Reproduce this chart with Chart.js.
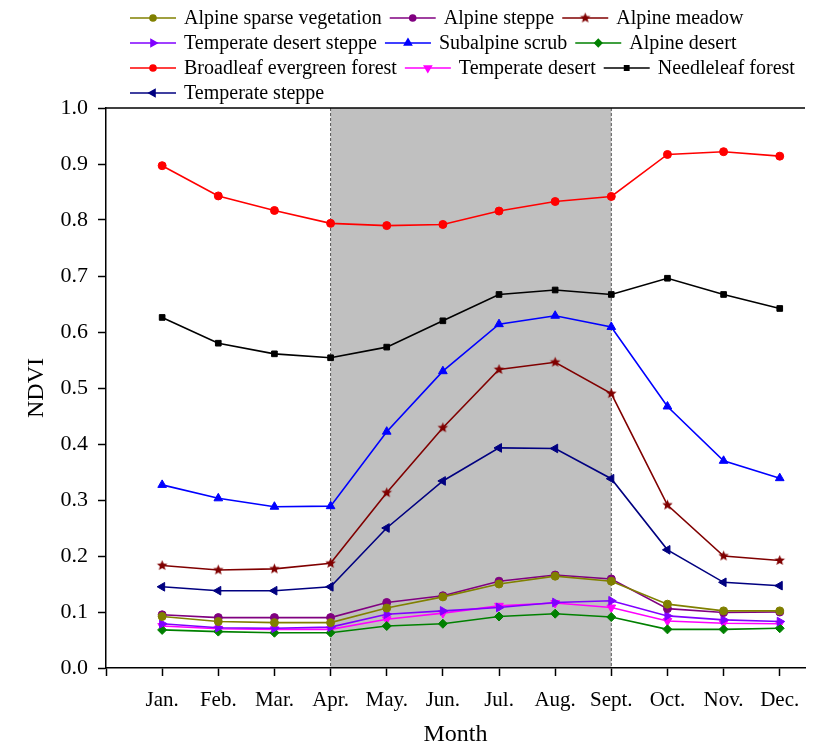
<!DOCTYPE html>
<html>
<head>
<meta charset="utf-8">
<script src="https://cdn.jsdelivr.net/npm/chart.js@4.4.1/dist/chart.umd.min.js"></script>
<style>
  html, body { margin: 0; padding: 0; background: #fff; }
  #wrap { width: 831px; height: 748px; }
</style>
</head>
<body>
<div id="wrap"><canvas id="ndvi"></canvas></div>
<script>
const months = ["Jan.", "Feb.", "Mar.", "Apr.", "May.", "Jun.", "Jul.", "Aug.", "Sept.", "Oct.", "Nov.", "Dec."];
const monthIndex = [1, 2, 3, 4, 5, 6, 7, 8, 9, 10, 11, 12];
const growingSeason = [4, 9]; // Apr. .. Sept.
const yTicks = [0, 0.1, 0.2, 0.3, 0.4, 0.5, 0.6, 0.7, 0.8, 0.9, 1.0];

const alpineSparse     = [0.092, 0.083, 0.081, 0.081, 0.107, 0.127, 0.150, 0.164, 0.155, 0.114, 0.102, 0.102];
const alpineSteppe     = [0.095, 0.090, 0.090, 0.090, 0.117, 0.129, 0.155, 0.166, 0.159, 0.106, 0.099, 0.100];
const alpineMeadow     = [0.183, 0.175, 0.177, 0.187, 0.313, 0.429, 0.533, 0.546, 0.490, 0.291, 0.200, 0.192];
const tempDesertSteppe = [0.079, 0.072, 0.071, 0.073, 0.096, 0.102, 0.108, 0.117, 0.120, 0.093, 0.086, 0.083];
const subalpineScrub   = [0.327, 0.303, 0.288, 0.289, 0.422, 0.530, 0.614, 0.629, 0.609, 0.467, 0.370, 0.339];
const alpineDesert     = [0.068, 0.065, 0.063, 0.063, 0.075, 0.079, 0.092, 0.097, 0.091, 0.069, 0.069, 0.071];
const broadleaf        = [0.897, 0.843, 0.817, 0.794, 0.790, 0.792, 0.816, 0.833, 0.842, 0.917, 0.922, 0.914];
const tempDesert       = [0.075, 0.070, 0.069, 0.069, 0.087, 0.098, 0.111, 0.116, 0.108, 0.084, 0.080, 0.079];
const needleleaf       = [0.626, 0.580, 0.561, 0.554, 0.573, 0.620, 0.667, 0.675, 0.667, 0.696, 0.667, 0.642];
const tempSteppe       = [0.145, 0.138, 0.138, 0.145, 0.250, 0.334, 0.393, 0.392, 0.338, 0.211, 0.153, 0.147];

const serif = "'Liberation Serif', 'Times New Roman', serif";

// filled five point star for the meadow markers
function starImage(color, r) {
    const c = document.createElement("canvas");
    const s = Math.ceil(r * 2 + 2);
    c.width = s; c.height = s;
    const g = c.getContext("2d");
    g.fillStyle = color;
    g.beginPath();
    for (let i = 0; i < 10; i++) {
        const rr = i % 2 === 0 ? r : r * 0.45;
        const a = -Math.PI / 2 + i * Math.PI / 5;
        g.lineTo(s / 2 + rr * Math.cos(a), s / 2 + rr * Math.sin(a));
    }
    g.closePath();
    g.fill();
    return c;
}

function series(label, values, color, pointStyle, rotation, radius) {
    return {
        label: label,
        data: values.map((v, i) => ({ x: monthIndex[i], y: v })),
        borderColor: color,
        backgroundColor: color,
        pointBackgroundColor: color,
        pointBorderColor: color,
        pointStyle: pointStyle,
        pointRotation: rotation,
        pointRadius: radius,
        pointHoverRadius: radius,
        pointBorderWidth: 1,
        borderWidth: 1.6,
        tension: 0,
    };
}

const datasets = [
    series("Alpine sparse vegetation", alpineSparse, "#808000", "circle", 0, 4),
    series("Alpine steppe", alpineSteppe, "#800080", "circle", 0, 4),
    series("Alpine meadow", alpineMeadow, "#800000", starImage("#800000", 5.5), 0, 5),
    series("Temperate desert steppe", tempDesertSteppe, "#8000ff", "triangle", 90, 5),
    series("Subalpine scrub", subalpineScrub, "#0000ff", "triangle", 0, 5),
    series("Alpine desert", alpineDesert, "#008000", "rectRot", 0, 4.5),
    series("Broadleaf evergreen forest", broadleaf, "#ff0000", "circle", 0, 4),
    series("Temperate desert", tempDesert, "#ff00ff", "triangle", 180, 5),
    series("Needleleaf forest", needleleaf, "#000000", "rect", 0, 4),
    series("Temperate steppe", tempSteppe, "#000080", "triangle", 270, 5),
];

const shadePlugin = {
    id: "shade",
    beforeDraw(chart) {
        const { ctx, chartArea: a, scales: { x } } = chart;
        const x0 = x.getPixelForValue(growingSeason[0]);
        const x1 = x.getPixelForValue(growingSeason[1]);
        ctx.save();
        ctx.fillStyle = "#c0c0c0";
        ctx.fillRect(x0, a.top, x1 - x0, a.bottom - a.top);
        ctx.strokeStyle = "#555";
        ctx.lineWidth = 1;
        ctx.setLineDash([3, 2]);
        [x0, x1].forEach((px) => {
            ctx.beginPath();
            ctx.moveTo(px, a.top);
            ctx.lineTo(px, a.bottom);
            ctx.stroke();
        });
        ctx.setLineDash([]);
        ctx.strokeStyle = "#000";
        ctx.lineWidth = 1.5;
        ctx.beginPath();
        ctx.moveTo(a.left, a.top);
        ctx.lineTo(a.right, a.top);
        ctx.stroke();
        ctx.restore();
    },
};

// legend: line sample with marker, three entries per row
const legendPlugin = {
    id: "lineLegend",
    afterDraw(chart) {
        const ctx = chart.ctx;
        const rowsY = [18, 43, 68, 93];
        ctx.save();
        ctx.font = "20px " + serif;
        ctx.textBaseline = "middle";
        let x = 130;
        chart.data.datasets.forEach((ds, i) => {
            const row = Math.floor(i / 3);
            if (i % 3 === 0) x = 130;
            const y = rowsY[row];
            ctx.strokeStyle = ds.borderColor;
            ctx.lineWidth = 1.6;
            ctx.beginPath();
            ctx.moveTo(x, y);
            ctx.lineTo(x + 46, y);
            ctx.stroke();
            ctx.fillStyle = ds.borderColor;
            Chart.helpers.drawPoint(ctx, {
                pointStyle: ds.pointStyle,
                rotation: ds.pointRotation,
                radius: ds.pointRadius - 1,
                borderWidth: 1,
            }, x + 23, y);
            ctx.fillStyle = "#000";
            ctx.fillText(ds.label, x + 54, y + 1);
            x += 54 + ctx.measureText(ds.label).width + 8;
        });
        ctx.restore();
    },
};

new Chart(document.getElementById("ndvi"), {
    type: "line",
    data: { datasets: datasets },
    options: {
        responsive: true,
        maintainAspectRatio: false,
        animation: false,
        layout: {
            padding: { top: 108, right: 26, left: 0, bottom: 0 },
        },
        plugins: {
            legend: { display: false },
            tooltip: { enabled: false },
        },
        scales: {
            x: {
                type: "linear",
                min: 0,
                max: 12.45,
                afterBuildTicks: (s) => {
                    s.ticks = [0].concat(monthIndex).map((v) => ({ value: v }));
                },
                afterFit: (s) => { s.height = 80; },
                grid: {
                    drawOnChartArea: false,
                    drawTicks: true,
                    tickLength: 8,
                    tickWidth: 1.5,
                    color: "#000",
                },
                border: { display: true, color: "#000", width: 1.5 },
                ticks: {
                    autoSkip: false,
                    maxRotation: 0,
                    padding: 12,
                    color: "#000",
                    font: { family: serif, size: 21 },
                    callback: (v) => (v >= 1 && v <= 12 ? months[v - 1] : ""),
                },
                title: {
                    display: true,
                    text: "Month",
                    color: "#000",
                    font: { family: serif, size: 24, lineHeight: 1.1 },
                    padding: { top: 0, bottom: 0 },
                },
            },
            y: {
                min: 0,
                max: 1,
                afterBuildTicks: (s) => {
                    s.ticks = yTicks.map((v) => ({ value: v }));
                },
                afterFit: (s) => { s.width = 106; },
                grid: {
                    drawOnChartArea: false,
                    drawTicks: true,
                    tickLength: 8,
                    tickWidth: 1.5,
                    color: "#000",
                },
                border: { display: true, color: "#000", width: 1.5 },
                ticks: {
                    padding: 10,
                    color: "#000",
                    font: { family: serif, size: 22 },
                    callback: (v) => v.toFixed(1),
                },
                title: {
                    display: true,
                    text: "NDVI",
                    color: "#000",
                    font: { family: serif, size: 24 },
                    padding: { top: 22, bottom: 0 },
                },
            },
        },
    },
    plugins: [shadePlugin, legendPlugin],
});
</script>
</body>
</html>
